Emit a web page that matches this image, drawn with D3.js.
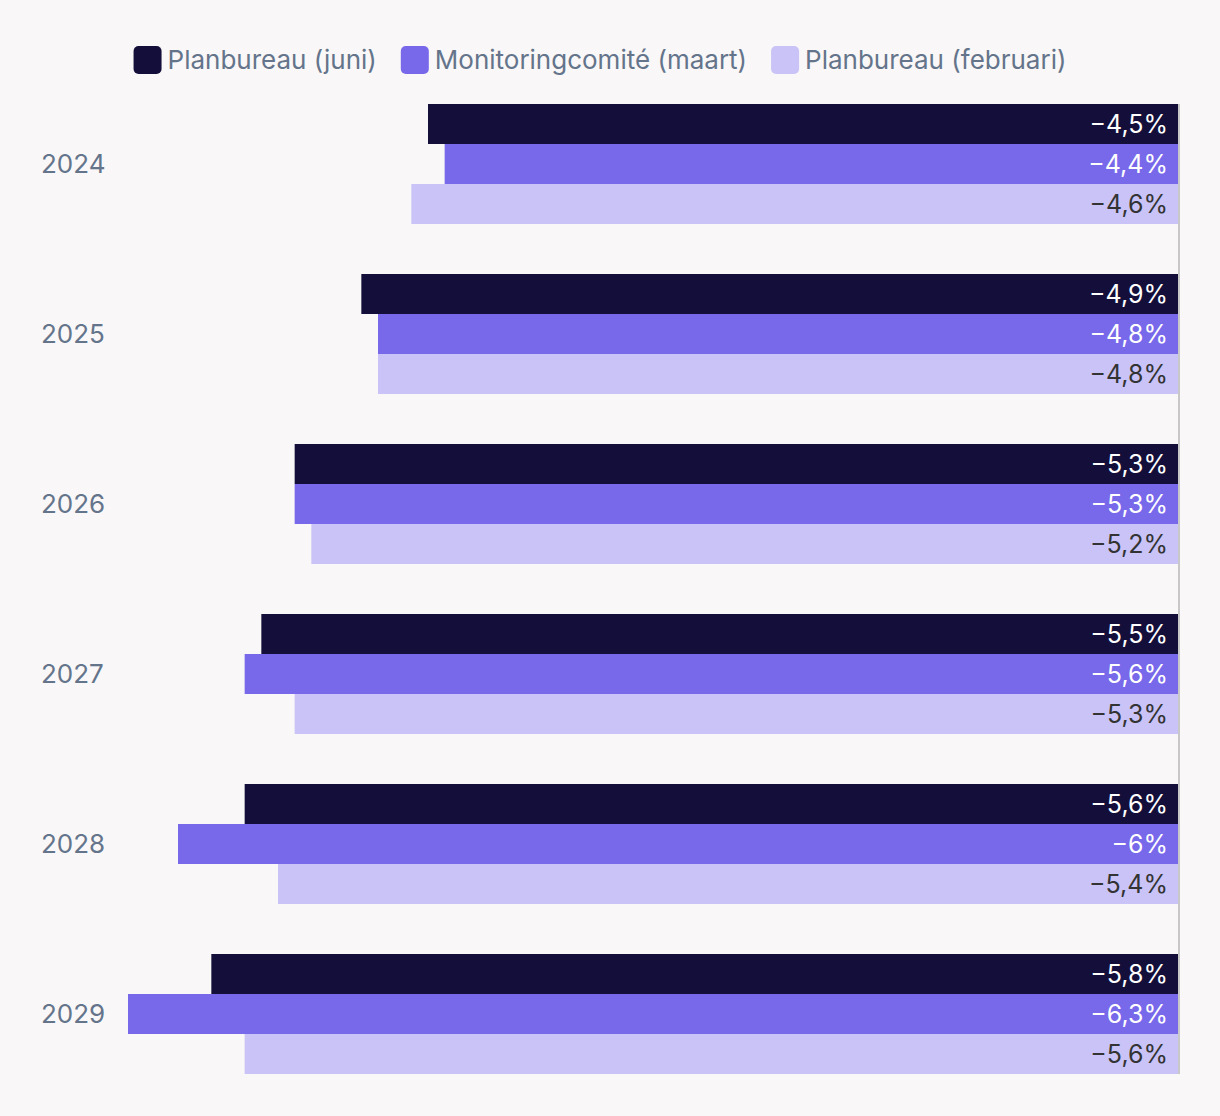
<!DOCTYPE html>
<html><head><meta charset="utf-8">
<script src="https://cdn.jsdelivr.net/npm/d3@7"></script>
<style>
html,body{margin:0;padding:0;background:#f9f7f7;}
svg{display:block;font-family:Inter,"Noto Sans",sans-serif;}
</style></head>
<body>
<svg id="chart" width="1220" height="1116"></svg>
<script>
const years = ["2024","2025","2026","2027","2028","2029"];
const seriesNames = ["Planbureau (juni)","Monitoringcomité (maart)","Planbureau (februari)"];
const planJuni = [-4.5,-4.9,-5.3,-5.5,-5.6,-5.8];
const monitMaart = [-4.4,-4.8,-5.3,-5.6,-6.0,-6.3];
const planFeb = [-4.6,-4.8,-5.2,-5.3,-5.4,-5.6];
const colors = ["#140f3a","#7868ea","#c9c3f7"];
const labelColors = ["#ffffff","#ffffff","#333333"];

const series = [planJuni, monitMaart, planFeb];
const svg = d3.select("#chart");
svg.append("rect").attr("width",1220).attr("height",1116).attr("fill","#f9f7f7");

const x = d3.scaleLinear().domain([-6.3,0]).range([128,1178]);
const y0 = d3.scaleBand().domain(years).range([104,1074]).paddingInner(50/170).paddingOuter(0);
const y1 = d3.scaleBand().domain(d3.range(3)).range([0,y0.bandwidth()]);

const fmt = v => "−" + String(Math.abs(v)).replace(".",",") + "%";

const g = svg.append("g");
years.forEach((yr,i)=>{
  const gg = g.append("g").attr("transform",`translate(0,${y0(yr)})`);
  series.forEach((s,j)=>{
    gg.append("rect").attr("x",x(s[i])).attr("y",y1(j)).attr("width",x(0)-x(s[i])).attr("height",y1.bandwidth()).attr("fill",colors[j]);
    gg.append("text").attr("x",x(0)-10).attr("y",y1(j)+y1.bandwidth()/2).attr("dy","0.36em")
      .attr("text-anchor","end").attr("font-size",25).attr("fill",labelColors[j]).text(fmt(s[i]));
  });
  svg.append("text").attr("x",41).attr("y",y0(yr)+y0.bandwidth()/2).attr("dy","0.36em")
    .attr("font-size",26).attr("fill","#64748b").text(yr);
});

svg.append("line").attr("x1",x(0)+1).attr("x2",x(0)+1).attr("y1",104).attr("y2",1074)
  .attr("stroke","#c8c8c8").attr("stroke-width",2);

// legend
const leg = svg.append("g");
let cx = 0;
seriesNames.forEach((n,j)=>{
  const it = leg.append("g").attr("transform",`translate(${cx},0)`);
  it.append("rect").attr("x",0).attr("y",46).attr("width",28).attr("height",28).attr("rx",5).attr("fill",colors[j]);
  const t = it.append("text").attr("x",34).attr("y",60).attr("dy","0.36em").attr("font-size",26).attr("fill","#64748b").text(n);
  const w = t.node().getComputedTextLength();
  cx += 34 + w + 24;
});
const totalW = cx - 24;
leg.attr("transform",`translate(${600 - totalW/2},0)`);
</script>
</body></html>
